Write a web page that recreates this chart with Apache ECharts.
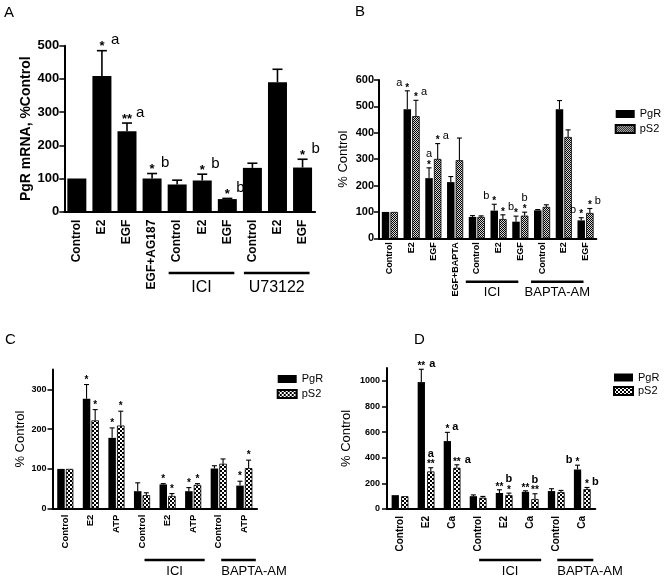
<!DOCTYPE html>
<html><head><meta charset="utf-8">
<script src="https://cdn.jsdelivr.net/npm/echarts@6/dist/echarts.min.js"></script>
<style>html,body{margin:0;padding:0;background:#fff}#c{width:664px;height:580px}</style>
</head><body><div id="c"></div><script>
// ---------- Panel A ----------
const A_cats = ['Control','E2','EGF','EGF+AG187','Control','E2','EGF','Control','E2','EGF'];
const A_pgr = [100,409,242,100,82,94,38,132,390,133];
const A_pgrErr = [100,485,267,115,95,113,40,146,429,158];
const A_pgrStars = ['','*','**','*','','*','*','','','*'];
const A_pgrLetters = ['','a','a','b','','b','b','','','b'];
const A_pgrLetterPos = ['','R','R','R','','R','R','','','R'];
const A_groupLabels = ['ICI','U73122'];
const A_groupFrom = [4,7];
const A_groupTo = [6,9];
const A_yTicks = [0,100,200,300,400,500];

// ---------- Panel B ----------
const B_cats = ['Control','E2','EGF','EGF+BAPTA','Control','E2','EGF','Control','E2','EGF'];
const B_pgr = [100,489,228,213,81,105,63,106,489,68];
const B_pgrErr = [100,559,267,234,86,129,84,109,522,78];
const B_ps2 = [100,463,301,296,81,73,86,119,384,96];
const B_ps2Err = [100,523,359,380,85,89,99,127,411,113];
const B_pgrStars = ['','*','*','','','*','*','','','*'];
const B_pgrLetters = ['','a','a','','','b','','','','b'];
const B_pgrLetterPos = ['','L','T','','','L','','','','L'];
const B_ps2Stars = ['','*','*','','','*','*','','','*'];
const B_ps2Letters = ['','a','a','','','b','b','','','b'];
const B_ps2LetterPos = ['','R','R','','','R','T','','','R'];
const B_groupLabels = ['ICI','BAPTA-AM'];
const B_groupFrom = [4,7];
const B_groupTo = [6,9];
const B_yTicks = [0,100,200,300,400,500,600];

// ---------- Panel C ----------
const C_cats = ['Control','E2','ATP','Control','E2','ATP','Control','ATP'];
const C_pgr = [100,276,178,44,61,44,101,58];
const C_pgrErr = [100,312,203,65,63,53,108,69];
const C_ps2 = [100,222,209,34,32,60,113,102];
const C_ps2Err = [100,249,245,40,38,63,125,122];
const C_pgrStars = ['','*','*','','*','*','','*'];
const C_ps2Stars = ['','*','*','','*','*','','*'];
const C_groupLabels = ['ICI','BAPTA-AM'];
const C_groupFrom = [3,6];
const C_groupTo = [5,7];
const C_yTicks = [0,100,200,300];

// ---------- Panel D ----------
const D_cats = ['Control','E2','Ca','Control','E2','Ca','Control','Ca'];
const D_pgr = [108,990,530,100,125,134,140,308];
const D_pgrErr = [108,1090,598,110,150,142,158,342];
const D_ps2 = [100,293,322,88,108,78,132,155];
const D_ps2Err = [100,322,345,98,124,119,145,168];
const D_pgrStars = ['','**','*','','**','**','','*'];
const D_pgrLetters = ['','a','a','','','','','b'];
const D_pgrLetterPos = ['','R','R','','','','','L'];
const D_ps2Stars = ['','**','**','','*','**','','*'];
const D_ps2Letters = ['','a','a','','b','b','','b'];
const D_ps2LetterPos = ['','T','R','','T','T','','R'];
const D_groupLabels = ['ICI','BAPTA-AM'];
const D_groupFrom = [3,6];
const D_groupTo = [5,7];
const D_yTicks = [0,200,400,600,800,1000];

const LEGEND_NAMES = ['PgR','pS2'];

// ---------- styling ----------
const FONT = '"Liberation Sans", Arial, Helvetica, sans-serif';

function patternFine(){
  const c = document.createElement('canvas'); c.width = 2; c.height = 2;
  const g = c.getContext('2d');
  g.fillStyle = '#d8d8d8'; g.fillRect(0,0,2,2);
  g.fillStyle = '#000'; g.fillRect(0,0,1,1); g.fillRect(1,1,1,1);
  return {image: c, repeat: 'repeat'};
}
function patternChecker(){
  const c = document.createElement('canvas'); c.width = 4; c.height = 4;
  const g = c.getContext('2d');
  g.fillStyle = '#fff'; g.fillRect(0,0,4,4);
  g.fillStyle = '#000'; g.fillRect(2,0,2,2); g.fillRect(0,2,2,2);
  return {image: c, repeat: 'repeat'};
}

const grids = [
  {left:64.3, top:45.7, width:250.8, height:166},
  {left:379, top:80, width:217.4, height:158.3},
  {left:52.5, top:369.4, width:204.6, height:139.3},
  {left:387, top:368, width:208.3, height:141}
];

function xAxis(gi, cats, fs, margin){
  return {
    type:'category', gridIndex:gi, data:cats,
    axisLine:{lineStyle:{color:'#000', width:2}},
    axisTick:{alignWithLabel:true, length:4, lineStyle:{color:'#000', width:1.5}},
    axisLabel:{rotate:90, interval:0, color:'#000', fontFamily:FONT, fontWeight:'bold', fontSize:fs, margin:margin}
  };
}
function yAxis(gi, max, ticks, fs, margin, name, nameFs, nameWeight, nameGap){
  return {
    type:'value', gridIndex:gi, min:0, max:max,
    splitLine:{show:false},
    axisLine:{show:true, lineStyle:{color:'#000', width:2}},
    axisTick:{show:true, length:5, customValues:ticks, lineStyle:{color:'#000', width:1.5}},
    axisLabel:{customValues:ticks, formatter: v => String(v), color:'#000', fontFamily:FONT, fontWeight:'bold', fontSize:fs, margin:margin},
    name:name, nameLocation:'middle', nameRotate:90, nameGap:nameGap,
    nameTextStyle:{color:'#000', fontFamily:FONT, fontSize:nameFs, fontWeight:nameWeight}
  };
}

function errSeries(gi, vals, errs, stars, letters, pos, off, st){
  return {
    type:'custom', xAxisIndex:gi, yAxisIndex:gi, clip:false, silent:true, z:5,
    data: vals.map((v,i)=>[i, v, errs[i]]),
    renderItem: function(params, api){
      const i = api.value(0), v = api.value(1), e = api.value(2);
      const pb = api.coord([i, v]), pe = api.coord([i, e]);
      const x = pb[0] + off;
      const ch = [];
      if (e > v) {
        ch.push({type:'line', shape:{x1:x, y1:pb[1], x2:x, y2:pe[1]}, style:{stroke:'#000', lineWidth:st.lw}});
        ch.push({type:'line', shape:{x1:x-st.cap/2, y1:pe[1], x2:x+st.cap/2, y2:pe[1]}, style:{stroke:'#000', lineWidth:st.lw}});
      }
      const top = Math.min(pb[1], pe[1]);
      const s = stars ? stars[i] : '';
      const L = letters ? letters[i] : '';
      const p = pos ? pos[i] : '';
      if (s) ch.push({type:'text', x:x, y:top + st.starDy,
        style:{text:s, fill:'#000', font:'bold ' + st.starFs + 'px ' + FONT, align:'center', verticalAlign:'middle'}});
      if (L) {
        const n = s ? s.length : 1;
        let lx, ly, al;
        if (p === 'R') { lx = x + st.ldx + (n-1)*st.ldxStep; ly = top + st.letterDy; al = 'left'; }
        else if (p === 'L') { lx = x - st.ldx - (n-1)*st.ldxStep; ly = top + st.letterDy; al = 'right'; }
        else { lx = x; ly = top + st.topDy; al = 'center'; }
        ch.push({type:'text', x:lx, y:ly,
          style:{text:L, fill:'#000', font:st.letterWeight + ' ' + st.letterFs + 'px ' + FONT, align:al, verticalAlign:'middle'}});
      }
      return {type:'group', children:ch};
    }
  };
}

function groupSeries(gi, labels, from, to, st){
  return {
    type:'custom', xAxisIndex:gi, yAxisIndex:gi, clip:false, silent:true, z:5,
    data: labels.map((l,i)=>[from[i], to[i], i]),
    renderItem: function(params, api){
      const a = api.coord([api.value(0), 0]), b = api.coord([api.value(1), 0]);
      const k = api.value(2);
      const x1 = a[0] + st.padL, x2 = b[0] + st.padR, y = a[1] + st.lineDy;
      const al = st.align[k];
      const tx = al === 'left' ? x1 : (x1 + x2) / 2;
      return {type:'group', children:[
        {type:'line', shape:{x1:x1, y1:y, x2:x2, y2:y}, style:{stroke:'#000', lineWidth:st.lw}},
        {type:'text', x:tx, y:a[1] + st.textDy,
          style:{text:labels[k], fill:'#000', font:'normal ' + st.fs + 'px ' + FONT, align:al, verticalAlign:'middle'}}
      ]};
    }
  };
}

const patB = patternFine();
const patCD = patternChecker();

const stA = {lw:1.6, cap:10, starFs:13, starDy:-4, letterFs:15, letterWeight:'normal', letterDy:-10.5, topDy:-20, ldx:9, ldxStep:0};
const stB = {lw:1.1, cap:5, starFs:10, starDy:-3, letterFs:11, letterWeight:'normal', letterDy:-8, topDy:-14, ldx:5, ldxStep:0};
const stC = {lw:1.1, cap:5, starFs:10, starDy:-4.5, letterFs:11, letterWeight:'normal', letterDy:-8, topDy:-14, ldx:5, ldxStep:0};
const stD = {lw:1.1, cap:5, starFs:10, starDy:-3, letterFs:11, letterWeight:'bold', letterDy:-5, topDy:-14, ldx:5, ldxStep:3};

const bw2 = 7.5, gapPct = 0.15;
const off2 = (bw2 + bw2*gapPct) / 2;
const bwD = 7.3, gapD = 0.3;
const offD = (bwD + bwD*gapD) / 2;

function legend(prefix, left, top, gap){
  return {
    data:[prefix + LEGEND_NAMES[0], prefix + LEGEND_NAMES[1]],
    left:left, top:top, orient:'vertical', padding:0, itemGap:gap,
    itemWidth:19, itemHeight:8, icon:'rect', selectedMode:false,
    formatter: n => n.split(':')[1],
    textStyle:{color:'#000', fontFamily:FONT, fontSize:11}
  };
}

const option = {
  animation:false,
  backgroundColor:'#fff',
  grid: grids,
  xAxis: [
    xAxis(0, A_cats, 12, 8),
    xAxis(1, B_cats, 9, 4),
    xAxis(2, C_cats, 9.5, 6),
    xAxis(3, D_cats, 10, 7)
  ],
  yAxis: [
    yAxis(0, 500, A_yTicks, 13, 5, 'PgR mRNA, %Control', 14, 'bold', 31),
    yAxis(1, 600, B_yTicks, 11, 5, '% Control', 13, 'normal', 29),
    yAxis(2, 350, C_yTicks, 9, 6, '% Control', 13, 'normal', 26),
    yAxis(3, 1100, D_yTicks, 9, 7, '% Control', 13, 'normal', 34)
  ],
  legend: [
    legend('B:', 614.7, 108.5, 4),
    legend('C:', 276.7, 373.5, 4),
    legend('D:', 613, 372, 2.5)
  ],
  graphic: [
    {type:'text', left:4, top:5, style:{text:'A', font:'normal 15px ' + FONT, fill:'#000'}},
    {type:'text', left:355, top:4, style:{text:'B', font:'normal 15px ' + FONT, fill:'#000'}},
    {type:'text', left:5, top:332, style:{text:'C', font:'normal 15px ' + FONT, fill:'#000'}},
    {type:'text', left:414, top:332, style:{text:'D', font:'normal 15px ' + FONT, fill:'#000'}}
  ],
  series: [
    {type:'bar', name:'A:PgR', xAxisIndex:0, yAxisIndex:0, data:A_pgr, barWidth:19, itemStyle:{color:'#000'}},
    errSeries(0, A_pgr, A_pgrErr, A_pgrStars, A_pgrLetters, A_pgrLetterPos, 0, stA),
    groupSeries(0, A_groupLabels, A_groupFrom, A_groupTo, {padL:-8.5, padR:7, lineDy:61.3, textDy:76, lw:2.6, fs:16, align:['center','center']}),

    {type:'bar', name:'B:PgR', xAxisIndex:1, yAxisIndex:1, data:B_pgr, barWidth:bw2, barGap:(gapPct*100)+'%', itemStyle:{color:'#000'}},
    {type:'bar', name:'B:pS2', xAxisIndex:1, yAxisIndex:1, data:B_ps2, barWidth:bw2, barGap:(gapPct*100)+'%', itemStyle:{color:patB, borderColor:'#000', borderWidth:0.8}},
    errSeries(1, B_pgr, B_pgrErr, B_pgrStars, B_pgrLetters, B_pgrLetterPos, -off2, stB),
    errSeries(1, B_ps2, B_ps2Err, B_ps2Stars, B_ps2Letters, B_ps2LetterPos, off2, stB),
    groupSeries(1, B_groupLabels, B_groupFrom, B_groupTo, {padL:-11, padR:-2, lineDy:43.4, textDy:54, lw:2.4, fs:13, align:['center','center']}),

    {type:'bar', name:'C:PgR', xAxisIndex:2, yAxisIndex:2, data:C_pgr, barWidth:bw2, barGap:(gapPct*100)+'%', itemStyle:{color:'#000'}},
    {type:'bar', name:'C:pS2', xAxisIndex:2, yAxisIndex:2, data:C_ps2, barWidth:bw2, barGap:(gapPct*100)+'%', itemStyle:{color:patCD, borderColor:'#000', borderWidth:0.8}},
    errSeries(2, C_pgr, C_pgrErr, C_pgrStars, null, null, -off2, stC),
    errSeries(2, C_ps2, C_ps2Err, C_ps2Stars, null, null, off2, stC),
    groupSeries(2, C_groupLabels, C_groupFrom, C_groupTo, {padL:2.5, padR:11.5, lineDy:51.3, textDy:63, lw:2.6, fs:13, align:['center','left']}),

    {type:'bar', name:'D:PgR', xAxisIndex:3, yAxisIndex:3, data:D_pgr, barWidth:bwD, barGap:(gapD*100)+'%', itemStyle:{color:'#000'}},
    {type:'bar', name:'D:pS2', xAxisIndex:3, yAxisIndex:3, data:D_ps2, barWidth:bwD, barGap:(gapD*100)+'%', itemStyle:{color:patCD, borderColor:'#000', borderWidth:0.8}},
    errSeries(3, D_pgr, D_pgrErr, D_pgrStars, D_pgrLetters, D_pgrLetterPos, -offD, stD),
    errSeries(3, D_ps2, D_ps2Err, D_ps2Stars, D_ps2Letters, D_ps2LetterPos, offD, stD),
    groupSeries(3, D_groupLabels, D_groupFrom, D_groupTo, {padL:1, padR:11, lineDy:51, textDy:62.7, lw:2.6, fs:13, align:['center','left']})
  ]
};

const chart = echarts.init(document.getElementById('c'));
chart.setOption(option);
</script></body></html>
